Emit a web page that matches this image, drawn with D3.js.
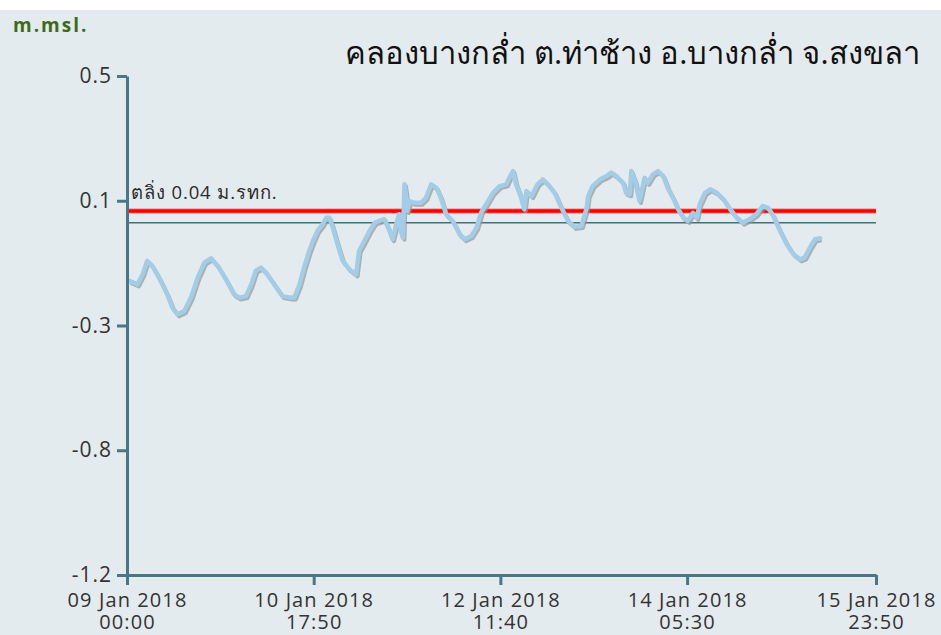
<!DOCTYPE html>
<html>
<head>
<meta charset="utf-8">
<script src="https://cdn.jsdelivr.net/npm/d3@7"></script>
<style>
  body { margin: 0; background: #ffffff; }
  svg { display: block; }
</style>
</head>
<body>
<svg width="941" height="635"></svg>
<script>
// water level readings, m. above mean sea level
var times = [
  "2018-01-09 00:30", "2018-01-09 02:20", "2018-01-09 03:30", "2018-01-09 04:30", "2018-01-09 05:40",
  "2018-01-09 07:10", "2018-01-09 09:00", "2018-01-09 10:10", "2018-01-09 11:20", "2018-01-09 12:50",
  "2018-01-09 14:20", "2018-01-09 15:50", "2018-01-09 17:20", "2018-01-09 18:50", "2018-01-09 20:20",
  "2018-01-09 22:10", "2018-01-10 00:00", "2018-01-10 01:10", "2018-01-10 02:40", "2018-01-10 03:50",
  "2018-01-10 04:50", "2018-01-10 06:00", "2018-01-10 07:10", "2018-01-10 09:00", "2018-01-10 10:50",
  "2018-01-10 12:40", "2018-01-10 13:30", "2018-01-10 14:40", "2018-01-10 15:40", "2018-01-10 16:50",
  "2018-01-10 17:40", "2018-01-10 18:40", "2018-01-10 19:50", "2018-01-10 20:40", "2018-01-10 21:20",
  "2018-01-10 22:00", "2018-01-10 23:10", "2018-01-11 00:20", "2018-01-11 01:50", "2018-01-11 03:20",
  "2018-01-11 04:00", "2018-01-11 05:10", "2018-01-11 06:20", "2018-01-11 07:30", "2018-01-11 08:30",
  "2018-01-11 09:40", "2018-01-11 10:50", "2018-01-11 11:30", "2018-01-11 12:20", "2018-01-11 13:00",
  "2018-01-11 13:20", "2018-01-11 13:50", "2018-01-11 14:10", "2018-01-11 14:30", "2018-01-11 14:50",
  "2018-01-11 15:20", "2018-01-11 16:20", "2018-01-11 17:50", "2018-01-11 19:00", "2018-01-11 20:10",
  "2018-01-11 21:20", "2018-01-11 22:20", "2018-01-11 23:30", "2018-01-12 01:00", "2018-01-12 02:30",
  "2018-01-12 03:40", "2018-01-12 05:10", "2018-01-12 06:20", "2018-01-12 07:20", "2018-01-12 08:30",
  "2018-01-12 10:00", "2018-01-12 11:30", "2018-01-12 13:00", "2018-01-12 13:40", "2018-01-12 14:30",
  "2018-01-12 15:10", "2018-01-12 16:20", "2018-01-12 17:00", "2018-01-12 17:30", "2018-01-12 18:40",
  "2018-01-12 20:00", "2018-01-12 21:10", "2018-01-12 22:20", "2018-01-12 23:50", "2018-01-13 01:20",
  "2018-01-13 02:50", "2018-01-13 04:20", "2018-01-13 05:50", "2018-01-13 07:00", "2018-01-13 07:20",
  "2018-01-13 08:20", "2018-01-13 10:00", "2018-01-13 11:30", "2018-01-13 12:30", "2018-01-13 13:40",
  "2018-01-13 15:10", "2018-01-13 15:50", "2018-01-13 16:40", "2018-01-13 17:00", "2018-01-13 17:50",
  "2018-01-13 18:50", "2018-01-13 20:00", "2018-01-13 20:40", "2018-01-13 21:50", "2018-01-13 23:00",
  "2018-01-14 00:10", "2018-01-14 01:10", "2018-01-14 02:20", "2018-01-14 03:30", "2018-01-14 04:40",
  "2018-01-14 05:40", "2018-01-14 06:50", "2018-01-14 07:40", "2018-01-14 08:20", "2018-01-14 09:30",
  "2018-01-14 10:40", "2018-01-14 12:10", "2018-01-14 13:40", "2018-01-14 15:10", "2018-01-14 16:40",
  "2018-01-14 18:00", "2018-01-14 19:30", "2018-01-14 21:00", "2018-01-14 22:30", "2018-01-14 23:40",
  "2018-01-15 00:50", "2018-01-15 02:20", "2018-01-15 03:50", "2018-01-15 05:20", "2018-01-15 06:50",
  "2018-01-15 07:50", "2018-01-15 09:00", "2018-01-15 10:10", "2018-01-15 11:20"
];
var levels = [
  -0.198, -0.210, -0.176, -0.130, -0.147,
  -0.187, -0.244, -0.289, -0.312, -0.301,
  -0.255, -0.187, -0.136, -0.121, -0.147,
  -0.193, -0.244, -0.255, -0.250, -0.210,
  -0.164, -0.153, -0.170, -0.210, -0.250,
  -0.255, -0.255, -0.210, -0.153, -0.096,
  -0.062, -0.028, -0.005, 0.017, 0.017,
  -0.011, -0.073, -0.130, -0.159, -0.176,
  -0.096, -0.062, -0.028, 0.000, 0.006,
  0.012, -0.028, -0.056, -0.005, 0.029,
  -0.028, -0.051, 0.131, 0.097, 0.040,
  0.074, 0.068, 0.068, 0.085, 0.131,
  0.119, 0.085, 0.029, 0.006, -0.039,
  -0.056, -0.045, -0.017, 0.034, 0.063,
  0.102, 0.125, 0.131, 0.153, 0.176,
  0.131, 0.085, 0.046, 0.108, 0.091,
  0.131, 0.148, 0.131, 0.102, 0.051,
  0.006, -0.014, -0.011, 0.051, 0.091,
  0.125, 0.148, 0.159, 0.171, 0.159,
  0.136, 0.102, 0.097, 0.176, 0.142,
  0.074, 0.153, 0.136, 0.165, 0.176,
  0.159, 0.119, 0.085, 0.046, 0.017,
  0.006, 0.034, 0.017, 0.063, 0.102,
  0.114, 0.102, 0.080, 0.046, 0.017,
  0.000, 0.012, 0.029, 0.057, 0.051,
  0.023, -0.028, -0.073, -0.107, -0.125,
  -0.119, -0.085, -0.056, -0.053
];

var xStart = "2018-01-09 00:00", xEnd = "2018-01-15 23:50";
var xTickTimes = ["2018-01-09 00:00", "2018-01-10 17:50", "2018-01-12 11:40", "2018-01-14 05:30", "2018-01-15 23:50"];
var yMin = -1.2, yMax = 0.5;
var yTickValues = [0.5, 0.075, -0.35, -0.775, -1.2];

var bankLevel = 0.04;   // ตลิ่ง
var mslLevel = 0;
var title = "คลองบางกล่ำ ต.ท่าช้าง อ.บางกล่ำ จ.สงขลา";
var bankLabel = "ตลิ่ง 0.04 ม.รทก.";
var unitLabel = "m.msl.";

var parse = d3.timeParse("%Y-%m-%d %H:%M");
var data = times.map(function(t, i) { return { t: parse(t), v: levels[i] }; });

var axisColor = "#4a7686";
var font = "'Open Sans', 'DejaVu Sans', sans-serif";

var svg = d3.select("svg");

// background panel, with a thin white band on top
svg.append("rect").attr("x", 0).attr("y", 10).attr("width", 941).attr("height", 625).attr("fill", "#e4ebee");

var x = d3.scaleTime()
    .domain([parse(xStart), parse(xEnd)])
    .range([127, 876]);

var y = d3.scaleLinear()
    .domain([yMin, yMax])
    .range([575, 76]);

var fmt = d3.formatLocale({ decimal: ".", thousands: ",", grouping: [3], currency: ["", ""], minus: "-" }).format(".1f");

// reference lines
svg.append("line")
    .attr("x1", x.range()[0]).attr("x2", x.range()[1])
    .attr("y1", y(mslLevel)).attr("y2", y(mslLevel))
    .attr("stroke", "#43707d").attr("stroke-width", 1.6);

svg.append("line")
    .attr("x1", x.range()[0]).attr("x2", x.range()[1])
    .attr("y1", y(bankLevel)).attr("y2", y(bankLevel))
    .attr("stroke", "#ff9a9a").attr("stroke-width", 5.5);
svg.append("line")
    .attr("x1", x.range()[0]).attr("x2", x.range()[1])
    .attr("y1", y(bankLevel)).attr("y2", y(bankLevel))
    .attr("stroke", "#ff0000").attr("stroke-width", 3.5);

svg.append("text")
    .attr("x", x.range()[0] + 4)
    .attr("y", y(bankLevel) - 12)
    .attr("font-family", font)
    .attr("font-size", 18.5)
    .attr("letter-spacing", 0.9)
    .attr("fill", "#2b2b2b")
    .text(bankLabel);

// water level line with its drop shadow
var line = d3.line()
    .x(function(d) { return x(d.t); })
    .y(function(d) { return y(d.v); });

svg.append("path")
    .datum(data)
    .attr("d", line)
    .attr("transform", "translate(1.5,2)")
    .attr("fill", "none")
    .attr("stroke", "#8e979c")
    .attr("stroke-opacity", 0.7)
    .attr("stroke-width", 4)
    .attr("stroke-linejoin", "round");

svg.append("path")
    .datum(data)
    .attr("d", line)
    .attr("fill", "none")
    .attr("stroke", "#a3cde7")
    .attr("stroke-width", 4.5)
    .attr("stroke-linejoin", "round")
    .attr("stroke-linecap", "round");

// axes
var yAxis = svg.append("g")
    .attr("transform", "translate(" + x.range()[0] + ",0)")
    .call(d3.axisLeft(y).tickValues(yTickValues).tickFormat(fmt).tickSize(10).tickSizeOuter(0).tickPadding(5));

var xAxis = svg.append("g")
    .attr("transform", "translate(0," + y.range()[0] + ")")
    .call(d3.axisBottom(x).tickValues(xTickTimes.map(parse)).tickSize(10).tickSizeOuter(0).tickPadding(8));

[yAxis, xAxis].forEach(function(g) {
  g.select(".domain").attr("stroke", axisColor).attr("stroke-width", 3);
  g.selectAll(".tick line").attr("stroke", axisColor).attr("stroke-width", 3);
  g.selectAll(".tick text").attr("fill", "#333").attr("font-family", font).attr("letter-spacing", 1);
});
yAxis.selectAll(".tick text").attr("font-size", 21);

// two-line date labels, as separate texts so each line keeps its own box
var fmtDay = d3.timeFormat("%d %b %Y"), fmtHour = d3.timeFormat("%H:%M");
xAxis.selectAll(".tick text").remove();
xAxis.selectAll(".tick").each(function(d) {
  var tick = d3.select(this);
  tick.append("text").attr("y", 32).text(fmtDay(d));
  tick.append("text").attr("y", 54).text(fmtHour(d));
});
xAxis.selectAll(".tick text")
    .attr("fill", "#333")
    .attr("font-family", font)
    .attr("font-size", 20)
    .attr("letter-spacing", 1.1)
    .attr("text-anchor", "middle");

// title and unit
svg.append("text")
    .attr("x", 13).attr("y", 32)
    .attr("font-family", font)
    .attr("font-weight", "bold")
    .attr("font-size", 19)
    .attr("letter-spacing", 2)
    .attr("fill", "#3c6c14")
    .text(unitLabel);

svg.append("text")
    .attr("x", 345).attr("y", 64)
    .attr("font-family", font)
    .attr("font-size", 31)
    .attr("fill", "#111")
    .text(title);
</script>
</body>
</html>
